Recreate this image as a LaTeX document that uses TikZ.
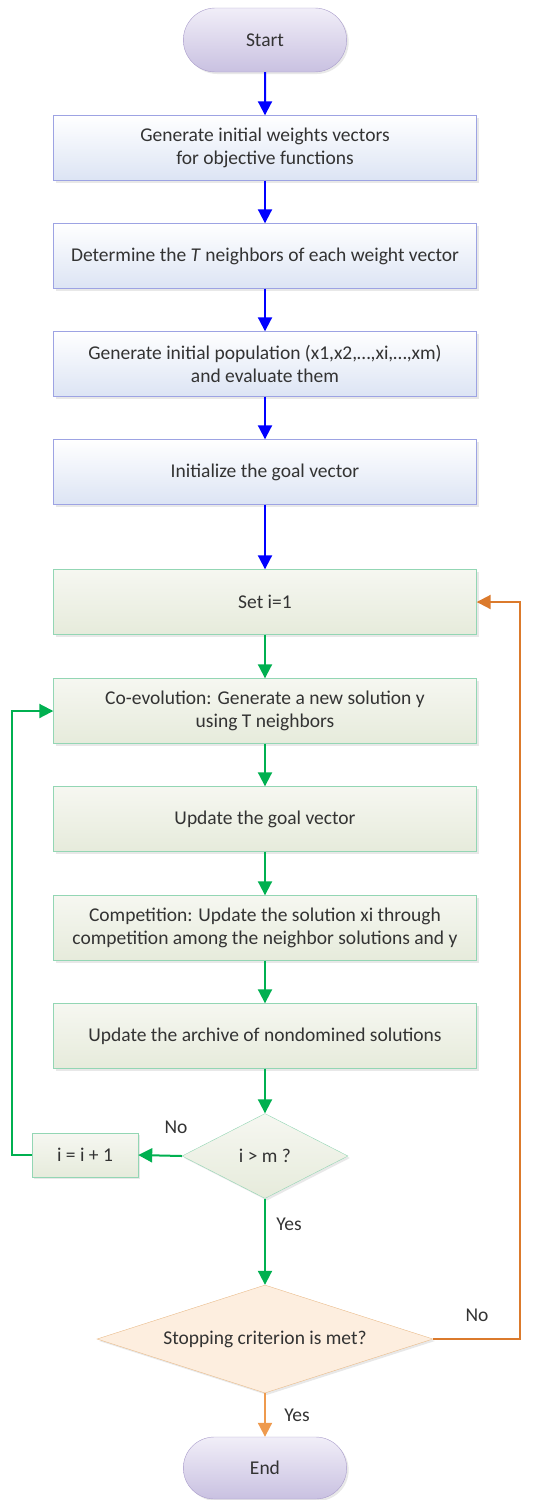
\documentclass[tikz,border=0pt]{standalone}
\usepackage{fontspec}
\setmainfont{Carlito}
\usetikzlibrary{arrows.meta,shapes.geometric,shapes.misc,shadows}

\definecolor{txtgray}{HTML}{333333}
\definecolor{termline}{HTML}{A99CCB}
\definecolor{termtop}{HTML}{F1EEF8}
\definecolor{termbot}{HTML}{C9C1E1}
\definecolor{blueline}{HTML}{9DA3E3}
\definecolor{bluebot}{HTML}{DCE4F4}
\definecolor{greenline}{HTML}{93D6B4}
\definecolor{greentop}{HTML}{F6F7F1}
\definecolor{greenbot}{HTML}{E6EBDB}
\definecolor{orangeline}{HTML}{E9BB8A}
\definecolor{orangefill}{HTML}{FDEEDF}
\definecolor{flowblue}{HTML}{0000FF}
\definecolor{flowgreen}{HTML}{00B050}
\definecolor{flowor}{HTML}{DB7A2C}
\definecolor{flowlight}{HTML}{EE9A4E}

\tikzset{
	every node/.style={font=\fontsize{19.5}{23}\selectfont, text=txtgray},
	shade/.style={drop shadow={shadow xshift=2pt, shadow yshift=-2pt, opacity=0.18}},
	term/.style={rounded rectangle, draw=termline, top color=termtop, bottom color=termbot, minimum width=170pt, minimum height=64pt, shade},
	bluebox/.style={rectangle, draw=blueline, top color=white, bottom color=bluebot, minimum width=423pt, minimum height=65pt, align=center, shade},
	greenbox/.style={rectangle, draw=greenline, top color=greentop, bottom color=greenbot, minimum width=423pt, minimum height=65pt, align=center, shade},
	greendec/.style={diamond, draw=greenline, top color=greentop, bottom color=greenbot, inner sep=0pt, minimum width=166pt, minimum height=85pt, shade},
	oradec/.style={diamond, aspect=3.1, draw=orangeline, fill=orangefill, inner sep=0pt, minimum width=336pt, minimum height=108pt, shade},
	flow/.style={line width=2pt, -{Triangle[length=14pt,width=14pt]}}
}

\begin{document}
\begin{tikzpicture}[x=1pt,y=1pt]
		\useasboundingbox (0,0) rectangle (536,-1500);
		\node[term] (start) at (265,-40) {Start};
		\node[bluebox] (weights) at (265,-148) {Generate initial weights vectors\\for objective functions};
		\node[bluebox] (neigh) at (265,-256) {Determine the \textit{T} neighbors of each weight vector};
		\node[bluebox] (pop) at (265,-364) {Generate initial population (x1,x2,…,xi,…,xm)\\and evaluate them};
		\node[bluebox] (goal) at (265,-472) {Initialize the goal vector};
		\node[greenbox] (seti) at (265,-602) {Set i=1};
		\node[greenbox] (coevo) at (265,-711) {Co-evolution: Generate a new solution y\\using T neighbors};
		\node[greenbox] (upgoal) at (265,-819) {Update the goal vector};
		\node[greenbox] (compet) at (265,-928) {Competition: Update the solution xi through\\competition among the neighbor solutions and y};
		\node[greenbox] (archive) at (265,-1036) {Update the archive of nondomined solutions};
		\node[greendec] (ism) at (265,-1156) {i > m ?};
		\node[greenbox, minimum width=106pt, minimum height=44pt] (incr) at (85,-1155) {i = i + 1};
		\node[oradec] (stop) at (265,-1339) {Stopping criterion is met?};
		\node[term, minimum height=62pt] (end) at (265,-1468) {End};
		\coordinate (gback) at (12,-1155);
		\coordinate (oback) at (520,-1339);

		\draw[flow, flowblue] (start) -- (weights);
		\draw[flow, flowblue] (weights) -- (neigh);
		\draw[flow, flowblue] (neigh) -- (pop);
		\draw[flow, flowblue] (pop) -- (goal);
		\draw[flow, flowblue] (goal) -- (seti);
		\draw[flow, flowgreen] (seti) -- (coevo);
		\draw[flow, flowgreen] (coevo) -- (upgoal);
		\draw[flow, flowgreen] (upgoal) -- (compet);
		\draw[flow, flowgreen] (compet) -- (archive);
		\draw[flow, flowgreen] (archive) -- (ism);
		\draw[flow, flowgreen] (ism.west) -- (incr.east);
		\draw[flow, flowgreen] (incr.west) -- (gback) |- (coevo.west);
		\draw[flow, flowgreen] (ism.south) -- (stop.north);
		\draw[flow, flowor] (stop.east) -- (oback) |- (seti.east);
		\draw[flow, flowlight] (stop.south) -- (end.north);

		\node at (176,-1127) {No};
		\node at (289,-1224) {Yes};
		\node at (477,-1315) {No};
		\node at (297,-1415) {Yes};
	\end{tikzpicture}
\end{document}
